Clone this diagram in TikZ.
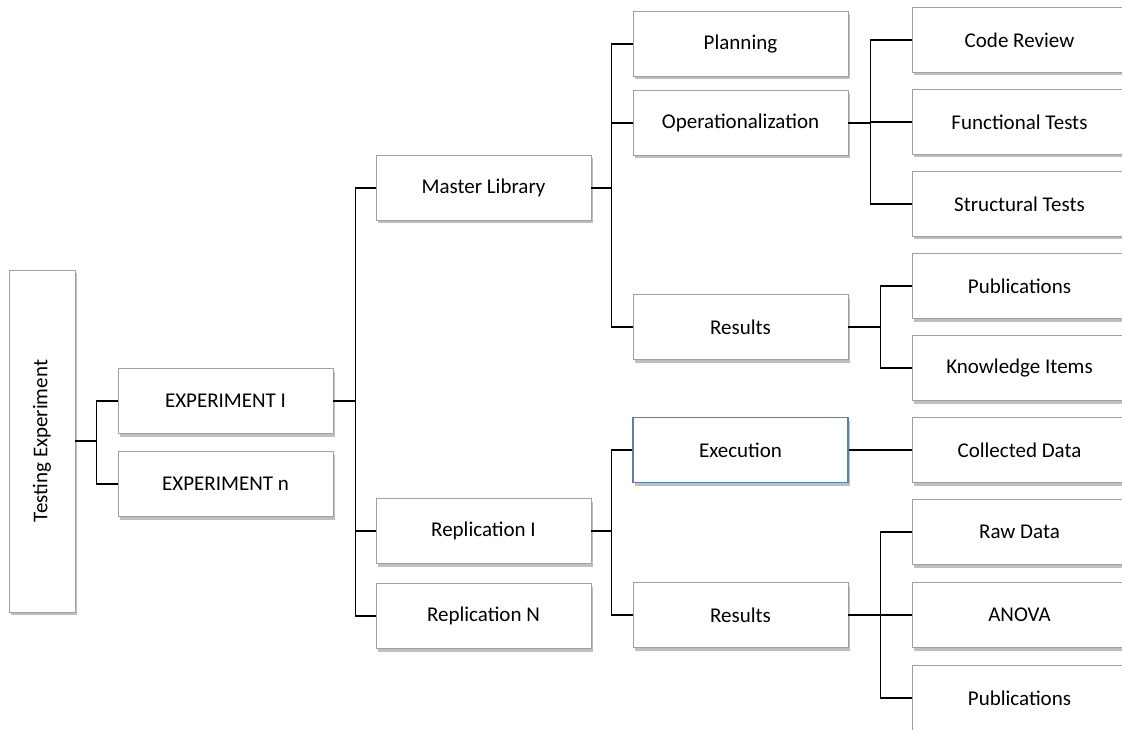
\documentclass[tikz,border=0pt]{standalone}
\usepackage{fontspec}
\setmainfont{Carlito}
\usetikzlibrary{shadows}
\definecolor{boxgray}{HTML}{A0A0A0}
\definecolor{execblue}{HTML}{5B7FB5}
\tikzset{
  box/.style={draw=boxgray, fill=white, line width=0.9pt, minimum width=215pt, minimum height=65pt, inner sep=0pt,
    drop shadow={shadow xshift=1.5pt, shadow yshift=-3pt, fill=black, opacity=0.25},
    font=\fontsize{21}{24}\selectfont},
  conn/.style={draw=black, line width=1.2pt}
}
\begin{document}
\begin{tikzpicture}[x=1pt,y=-1pt]
\useasboundingbox (0,0) rectangle (1122,730);
\clip (0,0) rectangle (1122,730);
% boxes
\node[box, minimum width=66pt, minimum height=342pt] (te) at (42,441) {};
\node[rotate=90, font=\fontsize{21}{24}\selectfont] (tetext) at (te.center) {Testing Experiment};
\node[box] (e1) at (225.5,401) {EXPERIMENT I};
\node[box] (en) at (225.5,484) {EXPERIMENT n};
\node[box] (ml) at (483.5,188) {Master Library};
\node[box] (r1) at (483.5,531) {Replication I};
\node[box] (rn) at (483.5,616) {Replication N};
\node[box] (pl) at (740.5,44) {Planning};
\node[box] (op) at (740.5,123) {Operationalization};
\node[box] (res1) at (740.5,327) {Results};
\node[box, draw=execblue, line width=1.3pt] (ex) at (740.5,450) {Execution};
\node[box] (res2) at (740.5,615) {Results};
\node[box] (cr) at (1019.5,40) {Code Review};
\node[box] (ft) at (1019.5,122) {Functional Tests};
\node[box] (st) at (1019.5,204) {Structural Tests};
\node[box] (pub1) at (1019.5,286) {Publications};
\node[box] (ki) at (1019.5,368) {Knowledge Items};
\node[box] (cd) at (1019.5,450) {Collected Data};
\node[box] (rd) at (1019.5,532) {Raw Data};
\node[box] (an) at (1019.5,615) {ANOVA};
\node[box] (pub2) at (1019.5,698) {Publications};
% connectors
\draw[conn] (te.east) -- ++(21,0) coordinate (j0);
\draw[conn] (e1.west) -| (j0);
\draw[conn] (en.west) -| (j0);
\draw[conn] (e1.east) -- ++(22,0) coordinate (j1);
\draw[conn] (ml.west) -| (j1);
\draw[conn] (r1.west) -| (j1);
\draw[conn] (rn.west) -| (j1);
\draw[conn] (ml.east) -- ++(20,0) coordinate (j2);
\draw[conn] (pl.west) -| (j2);
\draw[conn] (op.west) -| (j2);
\draw[conn] (res1.west) -| (j2);
\draw[conn] (op.east) -- ++(22,0) coordinate (j3);
\draw[conn] (cr.west) -| (j3);
\draw[conn] (ft.west) -| (j3);
\draw[conn] (st.west) -| (j3);
\draw[conn] (res1.east) -- ++(32,0) coordinate (j4);
\draw[conn] (pub1.west) -| (j4);
\draw[conn] (ki.west) -| (j4);
\draw[conn] (r1.east) -- ++(20,0) coordinate (j5);
\draw[conn] (ex.west) -| (j5);
\draw[conn] (res2.west) -| (j5);
\draw[conn] (ex.east) -- (cd.west);
\draw[conn] (res2.east) -- ++(32,0) coordinate (j6);
\draw[conn] (rd.west) -| (j6);
\draw[conn] (an.west) -| (j6);
\draw[conn] (pub2.west) -| (j6);
\end{tikzpicture}
\end{document}
